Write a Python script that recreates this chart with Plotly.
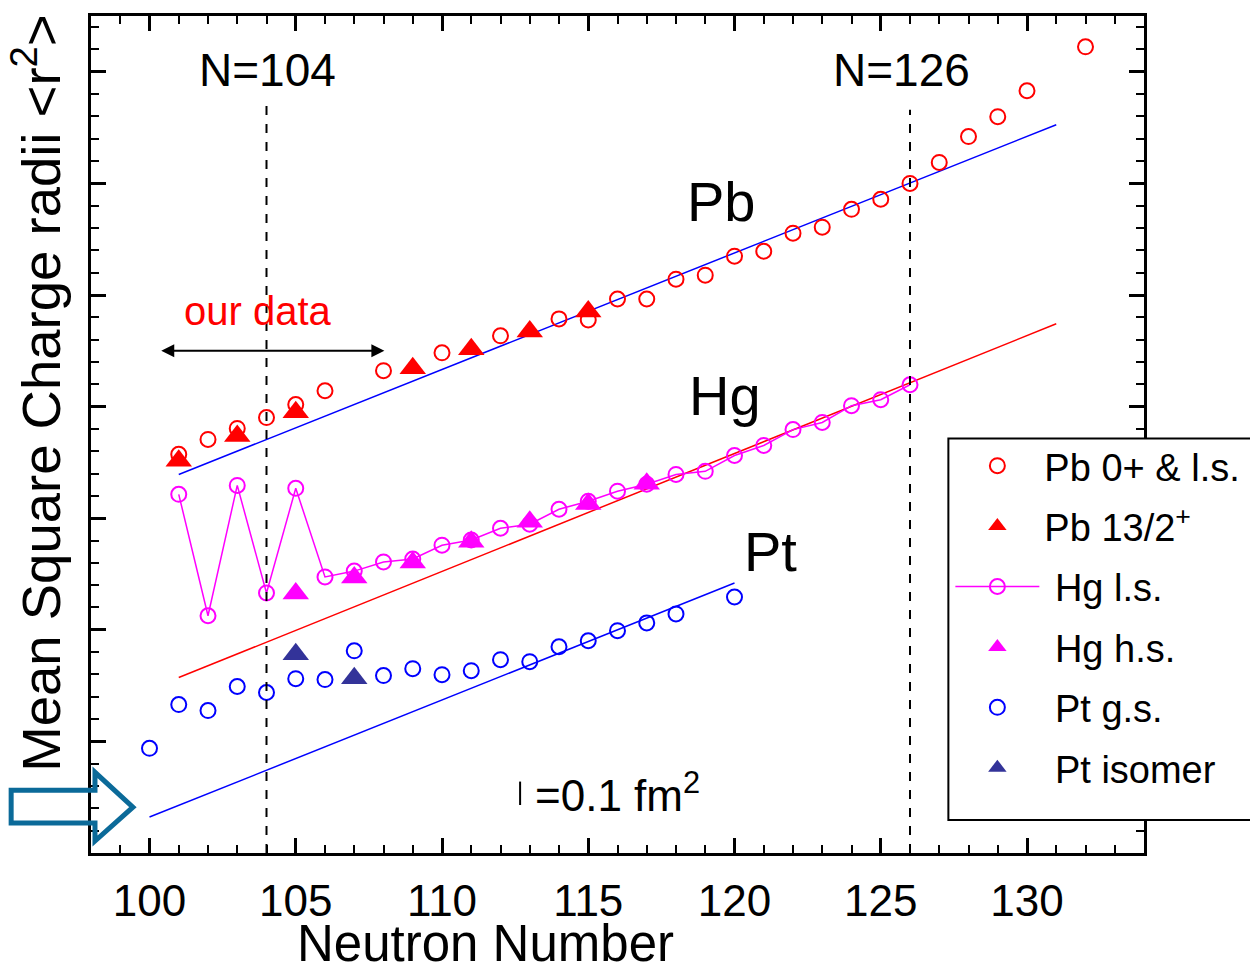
import plotly.graph_objects as go

FONT = "Liberation Sans, Arial, sans-serif"

# ---------------- data (relative <r2>, fm^2) ----------------
pb_gs_N = [101, 102, 103, 104, 105, 106, 108, 110, 112, 114, 115, 116, 117, 118, 119,
           120, 121, 122, 123, 124, 125, 126, 127, 128, 129, 130, 132]
pb_gs_r2 = [1.786, 1.853, 1.902, 1.951, 2.009, 2.071, 2.161, 2.241, 2.317, 2.393, 2.388,
            2.482, 2.482, 2.571, 2.589, 2.674, 2.696, 2.777, 2.804, 2.884, 2.929, 3.000,
            3.094, 3.210, 3.299, 3.415, 3.612]

pb_iso_N = [101, 103, 105, 109, 111, 113, 115]
pb_iso_r2 = [1.757, 1.868, 1.975, 2.172, 2.257, 2.337, 2.426]

hg_ls_N = [101, 102, 103, 104, 105, 106, 107, 108, 109, 110, 111, 112, 113, 114, 115,
           116, 117, 118, 119, 120, 121, 122, 123, 124, 125, 126]
hg_ls_r2 = [1.607, 1.063, 1.647, 1.165, 1.634, 1.237, 1.263, 1.304, 1.317, 1.379, 1.402,
            1.455, 1.473, 1.540, 1.576, 1.621, 1.652, 1.696, 1.710, 1.781, 1.826, 1.897,
            1.929, 2.004, 2.031, 2.098]

hg_hs_N = [105, 107, 109, 111, 113, 115, 117]
hg_hs_r2 = [1.163, 1.234, 1.301, 1.395, 1.484, 1.564, 1.654]

pt_gs_N = [100, 101, 102, 103, 104, 105, 106, 107, 108, 109, 110, 111, 112, 113, 114,
           115, 116, 117, 118, 120]
pt_gs_r2 = [0.469, 0.665, 0.638, 0.746, 0.719, 0.781, 0.777, 0.906, 0.795, 0.826, 0.799,
            0.817, 0.866, 0.857, 0.924, 0.951, 0.996, 1.031, 1.071, 1.147]

pt_iso_N = [105, 107]
pt_iso_r2 = [0.890, 0.783]

# droplet-model reference lines
ref_pb_N = [101, 131]
ref_pb_r2 = [1.696, 3.263]
ref_hg_N = [101, 131]
ref_hg_r2 = [0.786, 2.371]
ref_pt_N = [100, 120]
ref_pt_r2 = [0.161, 1.210]

# shell closures
magic_N = [104, 126]
magic_top = [3.353, 3.330]

x_ticks = [100, 105, 110, 115, 120, 125, 130]

# ---------------- figure ----------------
fig = go.Figure()

for xs, ys, col in [(ref_pb_N, ref_pb_r2, "#0000FF"),
                    (ref_hg_N, ref_hg_r2, "#FF0000"),
                    (ref_pt_N, ref_pt_r2, "#0000FF")]:
    fig.add_trace(go.Scatter(x=xs, y=ys, mode="lines", showlegend=False,
                             line=dict(color=col, width=1.5), hoverinfo="skip"))

circ = dict(symbol="circle-open", size=15, line=dict(width=2))
tri_size = 23
NB = "\u00a0"

fig.add_trace(go.Scatter(x=pb_gs_N, y=pb_gs_r2, mode="markers", name="Pb 0+ & l.s.",
                         legendgroup="g1", legendrank=1,
                         marker=dict(circ, color="#FF0000")))
fig.add_trace(go.Scatter(x=pb_iso_N, y=pb_iso_r2, mode="markers", name="Pb 13/2<sup>+</sup>",
                         legendgroup="g2", legendrank=2,
                         marker=dict(symbol="triangle-up", size=tri_size, color="#FF0000")))
fig.add_trace(go.Scatter(x=hg_ls_N, y=hg_ls_r2, mode="lines+markers", name=NB + "Hg l.s.",
                         legendgroup="g3", legendrank=3,
                         line=dict(color="#FF00FF", width=1.5),
                         marker=dict(circ, color="#FF00FF")))
fig.add_trace(go.Scatter(x=hg_hs_N, y=hg_hs_r2, mode="markers", name=NB + "Hg h.s.",
                         legendgroup="g4", legendrank=4,
                         marker=dict(symbol="triangle-up", size=tri_size, color="#FF00FF")))
fig.add_trace(go.Scatter(x=pt_gs_N, y=pt_gs_r2, mode="markers", name=NB + "Pt g.s.",
                         legendgroup="g5", legendrank=5,
                         marker=dict(circ, color="#0000FF")))
fig.add_trace(go.Scatter(x=pt_iso_N, y=pt_iso_r2, mode="markers", name=NB + "Pt isomer",
                         legendgroup="g6", legendrank=6,
                         marker=dict(symbol="triangle-up", size=tri_size, color="#333399")))

# ---------------- geometry (page pixels; the page body has an 8px margin) ----------------
OFF = 8
W, H = 1258 - 2 * OFF, 973 - 2 * OFF
L, R, T, B = 91, 1146, 13, 853          # plot box in page pixels


def px(xp):
    return (xp - L) / (R - L)


def py(yp):
    return (B - yp) / (B - T)


shapes = []
for n, top in zip(magic_N, magic_top):
    shapes.append(dict(type="line", xref="x", yref="y", x0=n, x1=n, y0=0, y1=top,
                       line=dict(color="black", width=2, dash="dash")))

# scale bar
shapes.append(dict(type="line", xref="x", yref="y", x0=112.67, x1=112.67, y0=0.215, y1=0.32,
                   line=dict(color="black", width=2)))

# hollow block arrow at left
pts = [(11, 790), (95, 790), (95, 772), (133, 807), (95, 841), (95, 823), (11, 823)]
path = "M " + " L ".join(f"{px(a):.5f},{py(b):.5f}" for a, b in pts) + " Z"
shapes.append(dict(type="path", xref="paper", yref="paper", path=path,
                   line=dict(color="#0B6A99", width=5), fillcolor="rgba(0,0,0,0)",
                   layer="above"))

# legend frame (right side runs off the page as in the original)
shapes.append(dict(type="rect", xref="paper", yref="paper",
                   x0=px(950), x1=px(1275), y0=py(820), y1=py(437),
                   line=dict(color="black", width=2), fillcolor="white", layer="above"))


def ann(text, x, y, size, color="black", xref="x", yref="y", xanchor="center", **kw):
    return dict(text=text, x=x, y=y, xref=xref, yref=yref, showarrow=False,
                xanchor=xanchor, yanchor="middle",
                font=dict(size=size, family=FONT, color=color), **kw)


annotations = [
    ann("Neutron Number", px(486), py(944), 51, xref="paper", yref="paper"),
    ann("Mean Square Charge radii &lt;r<sup>2</sup>&gt;", px(37), py(392), 54.5,
        xref="paper", yref="paper", textangle=-90),
    ann("N=104", 104.05, 3.51, 46),
    ann("N=126", 125.7, 3.51, 46),
    ann("Pb", 119.56, 2.92, 56),
    ann("Hg", 119.66, 2.05, 56),
    ann("Pt", 121.23, 1.35, 56),
    ann("our data", 103.7, 2.43, 40, color="#FF0000"),
    ann("=0.1 fm<sup>2</sup>", 113.1, 0.27, 44, xanchor="left"),
    dict(text="", xref="x", yref="y", axref="x", ayref="y",
         x=108.03, y=2.25, ax=100.35, ay=2.25, showarrow=True,
         arrowside="end+start", arrowhead=2, arrowsize=1.3, arrowwidth=2,
         arrowcolor="black", standoff=0, startstandoff=0),
]

axis_common = dict(
    showgrid=False, zeroline=False, showline=True, linecolor="black", linewidth=3,
    mirror="ticks", ticks="inside", ticklen=15, tickwidth=2.5, tickcolor="black",
)

fig.update_layout(
    width=W, height=H,
    margin=dict(l=L - OFF, r=W - (R - OFF), t=T - OFF, b=H - (B - OFF)),
    paper_bgcolor="white", plot_bgcolor="white",
    font=dict(family=FONT, color="black"),
    xaxis=dict(axis_common, range=[98, 134], tickmode="array", tickvals=x_ticks,
               ticktext=[str(v) for v in x_ticks],
               tickfont=dict(size=44, family=FONT, color="black"),
               ticklabelstandoff=7,
               minor=dict(dtick=1, tick0=98, ticks="inside", ticklen=8, tickwidth=2,
                          tickcolor="black")),
    yaxis=dict(axis_common, range=[0, 3.75], tickmode="linear", tick0=0, dtick=0.5,
               showticklabels=False,
               minor=dict(dtick=0.1, tick0=0, ticks="inside", ticklen=8, tickwidth=2,
                          tickcolor="black")),
    showlegend=True,
    legend=dict(x=px(952), y=py(433), xanchor="left", yanchor="top",
                bgcolor="rgba(0,0,0,0)", borderwidth=0,
                font=dict(size=38, family=FONT, color="black"),
                itemwidth=84, traceorder="grouped", tracegroupgap=8,
                itemclick=False),
    shapes=shapes,
    annotations=annotations,
)

fig.write_html("out.html", config={"displayModeBar": False})
